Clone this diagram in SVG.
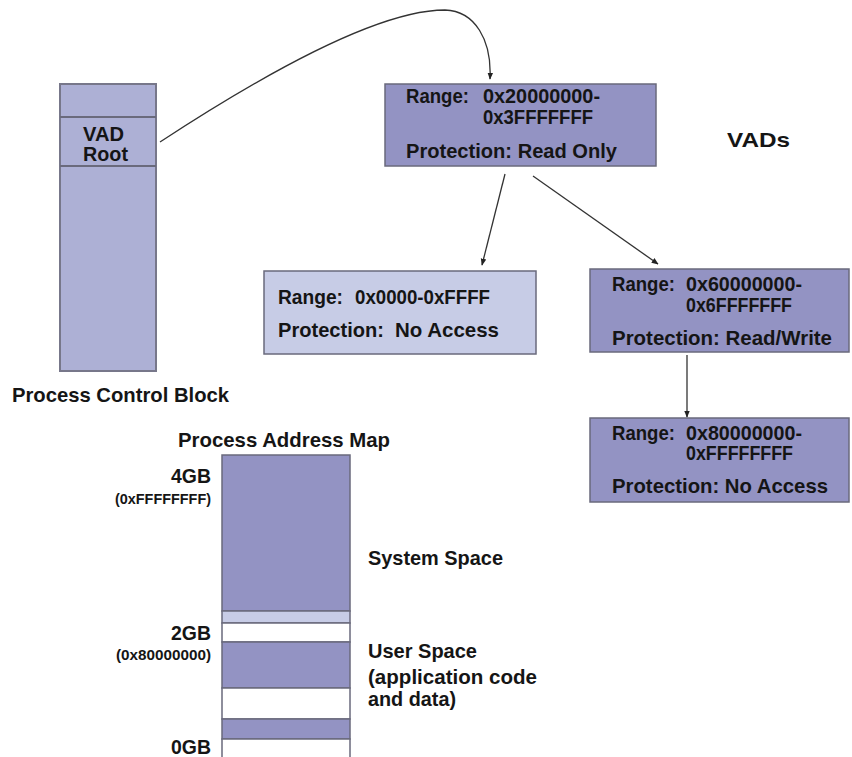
<svg xmlns="http://www.w3.org/2000/svg" width="852" height="757" viewBox="0 0 852 757">
  <style>
    .t { font-family: "Liberation Sans", Arial, sans-serif; font-weight: bold; font-size: 21px; fill: #151515; }
    .s { font-family: "Liberation Sans", Arial, sans-serif; font-weight: bold; font-size: 14px; fill: #151515; }
    .dark { fill: #9393c3; stroke: #6a6a7c; stroke-width: 1.5; }
    .light { fill: #c7cce6; stroke: #6a6a7c; stroke-width: 1.5; }
    .pcb { fill: #adb0d5; stroke: #77778a; stroke-width: 2; }
    .white { fill: #ffffff; stroke: #6a6a7c; stroke-width: 1.5; }
    .sep { stroke: #6a6a7c; stroke-width: 2; fill: none; }
    .link { fill: none; stroke: #333; stroke-width: 1.3; }
  </style>
  <defs>
    <marker id="arrow" viewBox="0 0 10 10" refX="9" refY="5" markerWidth="7" markerHeight="7" markerUnits="userSpaceOnUse" orient="auto">
      <path d="M0,1 L10,5 L0,9 Z" fill="#222"/>
    </marker>
  </defs>

  <!-- Process control block -->
  <g id="pcb">
    <rect class="pcb" x="60" y="84" width="96" height="287"/>
    <line class="sep" x1="60" y1="117" x2="156" y2="117"/>
    <line class="sep" x1="60" y1="166" x2="156" y2="166"/>
    <text class="t" x="83" y="141" textLength="41" lengthAdjust="spacingAndGlyphs">VAD</text>
    <text class="t" x="83" y="161" textLength="45" lengthAdjust="spacingAndGlyphs">Root</text>
  </g>
  <g id="pcb-label">
    <text class="t" x="12" y="402" textLength="217" lengthAdjust="spacingAndGlyphs">Process Control Block</text>
  </g>

  <!-- VAD tree -->
  <g id="vad-root-node">
    <rect class="dark" x="385" y="84" width="271" height="82"/>
    <text class="t" x="406" y="103" textLength="63" lengthAdjust="spacingAndGlyphs">Range:</text>
    <text class="t" x="483" y="103" textLength="117" lengthAdjust="spacingAndGlyphs">0x20000000-</text>
    <text class="t" x="483" y="124" textLength="110" lengthAdjust="spacingAndGlyphs">0x3FFFFFFF</text>
    <text class="t" x="406" y="158" textLength="211" lengthAdjust="spacingAndGlyphs">Protection: Read Only</text>
  </g>
  <g id="vads-label">
    <text class="t" x="727" y="147" textLength="63" lengthAdjust="spacingAndGlyphs">VADs</text>
  </g>

  <g id="vad-left">
    <rect class="light" x="264" y="271" width="272" height="83"/>
    <text class="t" x="278" y="304" textLength="65" lengthAdjust="spacingAndGlyphs">Range:</text>
    <text class="t" x="355" y="304" textLength="135" lengthAdjust="spacingAndGlyphs">0x0000-0xFFFF</text>
    <text class="t" x="278" y="337" textLength="106" lengthAdjust="spacingAndGlyphs">Protection:</text>
    <text class="t" x="395" y="337" textLength="104" lengthAdjust="spacingAndGlyphs">No Access</text>
  </g>

  <g id="vad-right">
    <rect class="dark" x="590" y="269" width="259" height="83"/>
    <text class="t" x="612" y="291" textLength="63" lengthAdjust="spacingAndGlyphs">Range:</text>
    <text class="t" x="686" y="291" textLength="116" lengthAdjust="spacingAndGlyphs">0x60000000-</text>
    <text class="t" x="686" y="312" textLength="106" lengthAdjust="spacingAndGlyphs">0x6FFFFFFF</text>
    <text class="t" x="612" y="345" textLength="220" lengthAdjust="spacingAndGlyphs">Protection: Read/Write</text>
  </g>

  <g id="vad-bottom">
    <rect class="dark" x="590" y="418" width="259" height="84"/>
    <text class="t" x="612" y="440" textLength="63" lengthAdjust="spacingAndGlyphs">Range:</text>
    <text class="t" x="686" y="440" textLength="116" lengthAdjust="spacingAndGlyphs">0x80000000-</text>
    <text class="t" x="686" y="460" textLength="107" lengthAdjust="spacingAndGlyphs">0xFFFFFFFF</text>
    <text class="t" x="612" y="493" textLength="216" lengthAdjust="spacingAndGlyphs">Protection: No Access</text>
  </g>

  <!-- Process address map -->
  <g id="address-map">
    <text class="t" x="178" y="447" textLength="212" lengthAdjust="spacingAndGlyphs">Process Address Map</text>
    <rect class="dark" x="222" y="455" width="128" height="156"/>
    <rect class="light" x="222" y="611" width="128" height="12"/>
    <rect class="white" x="222" y="623" width="128" height="19"/>
    <rect class="dark" x="222" y="642" width="128" height="46"/>
    <rect class="white" x="222" y="688" width="128" height="31"/>
    <rect class="dark" x="222" y="719" width="128" height="20"/>
    <rect class="white" x="222" y="739" width="128" height="24"/>

    <text class="t" x="211" y="483" text-anchor="end" textLength="40" lengthAdjust="spacingAndGlyphs">4GB</text>
    <text class="s" x="211" y="504" text-anchor="end" textLength="96" lengthAdjust="spacingAndGlyphs">(0xFFFFFFFF)</text>
    <text class="t" x="211" y="640" text-anchor="end" textLength="40" lengthAdjust="spacingAndGlyphs">2GB</text>
    <text class="s" x="211" y="660" text-anchor="end" textLength="95" lengthAdjust="spacingAndGlyphs">(0x80000000)</text>
    <text class="t" x="211" y="754" text-anchor="end" textLength="40" lengthAdjust="spacingAndGlyphs">0GB</text>

    <text class="t" x="368" y="565" textLength="135" lengthAdjust="spacingAndGlyphs">System Space</text>
    <text class="t" x="368" y="658" textLength="109" lengthAdjust="spacingAndGlyphs">User Space</text>
    <text class="t" x="368" y="684" textLength="169" lengthAdjust="spacingAndGlyphs">(application code</text>
    <text class="t" x="368" y="706" textLength="88" lengthAdjust="spacingAndGlyphs">and data)</text>
  </g>

  <!-- Connectors -->
  <g id="connectors">
    <path class="link" d="M160,142 C270,70 380,10 445,10 C475,11 492,40 490,79" marker-end="url(#arrow)"/>
    <line class="link" x1="505" y1="174" x2="482" y2="265" marker-end="url(#arrow)"/>
    <line class="link" x1="533" y1="176" x2="658" y2="264" marker-end="url(#arrow)"/>
    <line class="link" x1="687" y1="355" x2="687" y2="417" marker-end="url(#arrow)"/>
  </g>
</svg>
